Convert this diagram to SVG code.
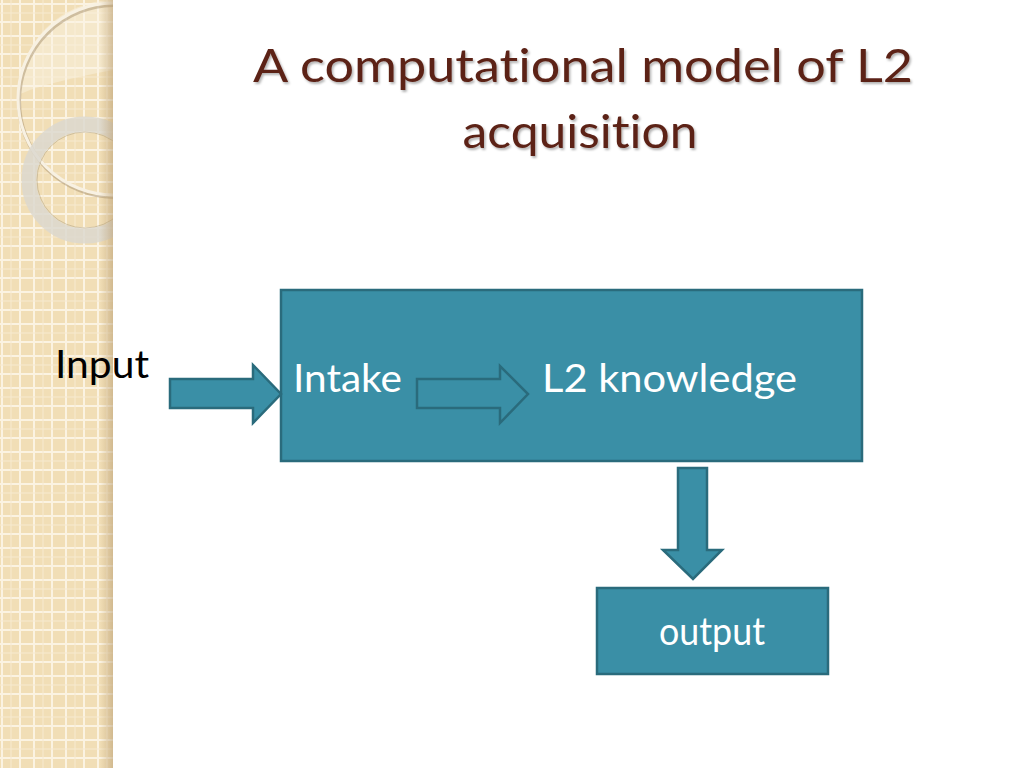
<svg xmlns="http://www.w3.org/2000/svg" width="1024" height="768" viewBox="0 0 1024 768">
<defs>
<style>
text{font-variant-ligatures:none;font-feature-settings:"liga" 0,"clig" 0}
.box{fill:#3a8fa6;stroke:#2a6b7c;stroke-width:2.5}
.arrow{fill:#3a8fa6;stroke:#2a6b7c;stroke-width:2.5;stroke-linejoin:miter}
.lbl{font-family:Lato,"Open Sans","Liberation Sans",sans-serif;font-size:38px;fill:#ffffff}
.title{font-family:Lato,"Open Sans","Liberation Sans",sans-serif;font-size:47px;fill:#5c2418;text-anchor:middle}
</style>
<pattern id="grid" width="32" height="32" patternUnits="userSpaceOnUse">
<rect width="32" height="32" fill="#f1deb6"/>
<path d="M2 0V32M20 0V32M0 4H32M0 22H32" stroke="#fbf3e2" stroke-width="2"/>
<path d="M11 0V32M0 13H32" stroke="#f7ead0" stroke-width="1"/>
</pattern>
<linearGradient id="edge" x1="0" y1="0" x2="1" y2="0">
<stop offset="0" stop-color="#b89c70" stop-opacity="0"/>
<stop offset="1" stop-color="#b89c70" stop-opacity="0.55"/>
</linearGradient>
<clipPath id="side"><rect x="0" y="0" width="113" height="768"/></clipPath>
<filter id="sh" x="-5%" y="-5%" width="110%" height="120%">
<feDropShadow dx="1.5" dy="2" stdDeviation="1.2" flood-color="#000" flood-opacity="0.3"/>
</filter>
</defs>
<rect width="1024" height="768" fill="#ffffff"/>
<g id="sidebar" clip-path="url(#side)">
<rect x="0" y="0" width="113" height="768" fill="url(#grid)"/>
<path d="M18 95 A96 96 0 0 1 113 0 L113 70 Q60 80 30 90 Z" fill="#fbf3e4" opacity="0.45"/>
<circle cx="114" cy="99" r="96" fill="none" stroke="#a89270" stroke-width="4" opacity="0.5" transform="translate(1,2)"/>
<circle cx="114" cy="99" r="96" fill="none" stroke="#f8f1e2" stroke-width="3"/>
<circle cx="85" cy="180" r="56" fill="none" stroke="#dcd8cf" stroke-width="15" opacity="0.85"/>
<circle cx="85" cy="180" r="48" fill="none" stroke="#b8a888" stroke-width="1" opacity="0.6"/>
<rect x="100" y="0" width="13" height="768" fill="url(#edge)"/>
</g>
<g id="title" filter="url(#sh)">
<text class="title" x="583" y="82" textLength="660" lengthAdjust="spacingAndGlyphs">A computational model of L2</text>
<text class="title" x="580" y="148" textLength="235" lengthAdjust="spacingAndGlyphs">acquisition</text>
</g>
<g id="input">
<text x="55" y="378" font-family="Lato,'Open Sans','Liberation Sans',sans-serif" font-size="38" fill="#000000" textLength="94" lengthAdjust="spacingAndGlyphs">Input</text>
</g>
<g id="process">
<rect class="box" x="281" y="290" width="581" height="171"/>
<text class="lbl" x="293" y="392" textLength="109" lengthAdjust="spacingAndGlyphs">Intake</text>
<text class="lbl" x="542" y="392" textLength="255" lengthAdjust="spacingAndGlyphs">L2 knowledge</text>
</g>
<g id="output">
<rect class="box" x="597" y="588" width="231" height="86"/>
<text class="lbl" x="659" y="645" font-size="34" textLength="106" lengthAdjust="spacingAndGlyphs">output</text>
</g>
<g id="connectors">
<path class="arrow" d="M170 379 H253 V365 L281 394 L253 423 V408 H170 Z"/>
<path class="arrow" d="M417 379 H500 V366 L528 394 L500 423 V408 H417 Z"/>
<path class="arrow" d="M678 468 H707 V550 H722 L693 579 L663 550 H678 Z"/>
</g>
</svg>
